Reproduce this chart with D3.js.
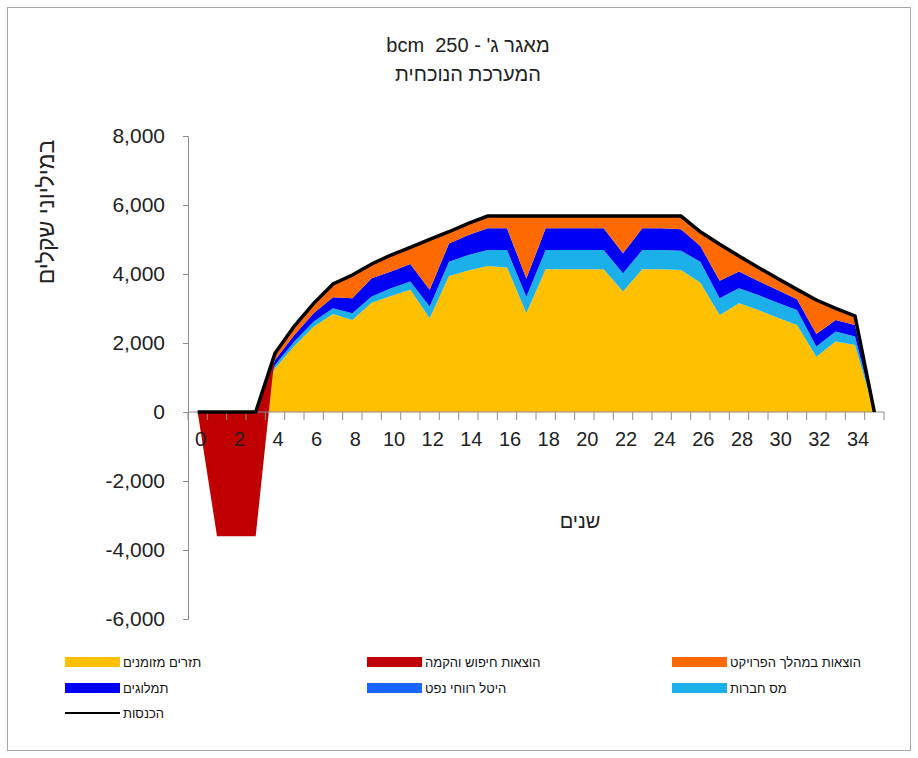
<!DOCTYPE html>
<html><head><meta charset="utf-8">
<script src="https://cdn.jsdelivr.net/npm/d3@7"></script>
<style>body{margin:0;background:#fff}svg{display:block}text{font-family:"Liberation Sans",Arial,sans-serif}</style>
</head><body>
<svg id="c" width="918" height="758"></svg>
<script>
const years = [0,1,2,3,4,5,6,7,8,9,10,11,12,13,14,15,16,17,18,19,20,21,22,23,24,25,26,27,28,29,30,31,32,33,34,35];
const tickLabels = [0,2,4,6,8,10,12,14,16,18,20,22,24,26,28,30,32,34];
const yTicks = [-6000,-4000,-2000,0,2000,4000,6000,8000];
const cashFlow   = [0,0,0,0,1270,1910,2470,2840,2670,3170,3360,3540,2715,3940,4100,4230,4190,2860,4135,4135,4135,4135,3490,4135,4135,4115,3750,2810,3150,2955,2735,2520,1605,2040,1940,0];
const corpTax    = [0,0,0,0,90,130,150,165,190,175,225,240,340,415,450,465,505,480,560,560,560,560,530,560,560,560,605,485,435,435,435,435,290,290,245,0];
const oilLevy    = [0,0,0,0,0,0,0,0,0,0,0,0,0,0,0,0,0,0,0,0,0,0,0,0,0,0,0,0,0,0,0,0,0,0,0,0];
const royalties  = [0,0,0,0,145,190,240,320,435,530,485,510,485,530,580,630,630,530,630,630,630,630,580,630,630,620,455,510,485,405,365,310,365,340,340,0];
const projectExp = [0,0,0,0,195,260,290,385,675,415,480,480,1465,340,340,355,355,1810,355,355,355,355,1080,355,355,385,415,1055,450,395,335,290,985,335,260,0];
const exploration= [0,-3600,-3600,-3600,0,0,0,0,0,0,0,0,0,0,0,0,0,0,0,0,0,0,0,0,0,0,0,0,0,0,0,0,0,0,0,0];
const revenue    = [0,0,0,0,1700,2490,3150,3710,3970,4290,4550,4770,5005,5225,5470,5680,5680,5680,5680,5680,5680,5680,5680,5680,5680,5680,5225,4860,4520,4190,3870,3555,3245,3005,2785,0];

const seriesNames = {
  cashFlow:"תזרים מזומנים", exploration:"הוצאות חיפוש והקמה", projectExp:"הוצאות במהלך הפרויקט",
  royalties:"תמלוגים", oilLevy:"היטל רווחי נפט", corpTax:"מס חברות", revenue:"הכנסות"
};
const colors = {cashFlow:"#FFC000", corpTax:"#1CB0EA", oilLevy:"#1A66FF", royalties:"#0000F5", projectExp:"#FF6A00", exploration:"#C00000"};

const rows = years.map((y,i)=>({year:y, cashFlow:cashFlow[i], corpTax:corpTax[i], oilLevy:oilLevy[i], royalties:royalties[i], projectExp:projectExp[i], exploration:exploration[i]}));
const keys = ["cashFlow","corpTax","oilLevy","royalties","projectExp","exploration"];
const stacked = d3.stack().keys(keys)(rows);

const svg = d3.select("#c");
svg.append("rect").attr("x",7.5).attr("y",7.5).attr("width",903).attr("height",743).attr("fill","#fff").attr("stroke","#a6a6a6");

const x = d3.scaleBand().domain(years).range([188,884]);
const xc = d => x(d) + x.bandwidth()/2;
const y = d3.scaleLinear().domain([-6000,8000]).range([619,136]);

// areas
const area = d3.area().x(d=>xc(d.data.year)).y0(d=>y(d[0])).y1(d=>y(d[1]));
svg.append("g").selectAll("path").data(stacked).join("path")
  .attr("d",area).attr("fill",d=>colors[d.key]);

// axes
const fmt = d3.format(",");
const gy = svg.append("g").attr("transform","translate(188,0)")
  .call(d3.axisLeft(y).tickValues(yTicks).tickSize(5).tickPadding(18).tickFormat(d=>fmt(Math.abs(d)).replace(/^/, d<0?"-":"")));
gy.select(".domain").attr("stroke","#8c8c8c");
gy.selectAll(".tick line").attr("stroke","#8c8c8c");
gy.selectAll(".tick text").attr("font-size",21).attr("fill","#222").attr("font-family","'Liberation Sans',Arial,sans-serif");

const gx = svg.append("g").attr("transform",`translate(0,${y(0)})`);
gx.append("line").attr("x1",188).attr("x2",884).attr("stroke","#8c8c8c");
const bounds = years.map(d=>x(d)).concat([884]);
gx.selectAll("line.tk").data(bounds).join("line").attr("class","tk")
  .attr("x1",d=>d).attr("x2",d=>d).attr("y1",0).attr("y2",8).attr("stroke","#8c8c8c");
gx.selectAll("text").data(tickLabels).join("text")
  .attr("x",d=>xc(d)+3).attr("y",34).attr("text-anchor","middle")
  .attr("font-size",20).attr("fill","#222").text(d=>d);

// revenue line
const line = d3.line().x((d,i)=>xc(years[i])).y(d=>y(d));
svg.append("path").datum(revenue).attr("d",line).attr("fill","none")
  .attr("stroke","#000").attr("stroke-width",3.5).attr("stroke-linejoin","miter");

// titles
svg.append("text").attr("x",468).attr("y",52).attr("text-anchor","middle").attr("direction","rtl")
  .style("white-space","pre").attr("font-size",20).attr("fill","#222").text("מאגר ג' - 250  bcm");
svg.append("text").attr("x",468).attr("y",81).attr("text-anchor","middle")
  .attr("font-size",20).attr("fill","#222").text("המערכת הנוכחית");
svg.append("text").attr("transform","translate(54,212) rotate(-90)").attr("text-anchor","middle")
  .attr("font-size",23).attr("fill","#222").text("במיליוני שקלים");
svg.append("text").attr("x",580).attr("y",528).attr("text-anchor","middle")
  .attr("font-size",20).attr("fill","#222").text("שנים");

// legend
const legend = [
  {k:"cashFlow",x:65,y:662},{k:"exploration",x:367,y:662},{k:"projectExp",x:672,y:662},
  {k:"royalties",x:65,y:688},{k:"oilLevy",x:367,y:688},{k:"corpTax",x:672,y:688},
  {k:"revenue",x:65,y:713}
];
const lg = svg.append("g");
legend.forEach(e=>{
  if(e.k==="revenue"){
    lg.append("line").attr("x1",e.x).attr("x2",e.x+55).attr("y1",e.y).attr("y2",e.y).attr("stroke","#000").attr("stroke-width",2);
  } else {
    lg.append("rect").attr("x",e.x).attr("y",e.y-5).attr("width",55).attr("height",10).attr("fill",colors[e.k]);
  }
  lg.append("text").attr("x",e.x+58).attr("y",e.y+5).attr("font-size",13).attr("fill","#111").text(seriesNames[e.k]);
});
</script>
</body></html>
